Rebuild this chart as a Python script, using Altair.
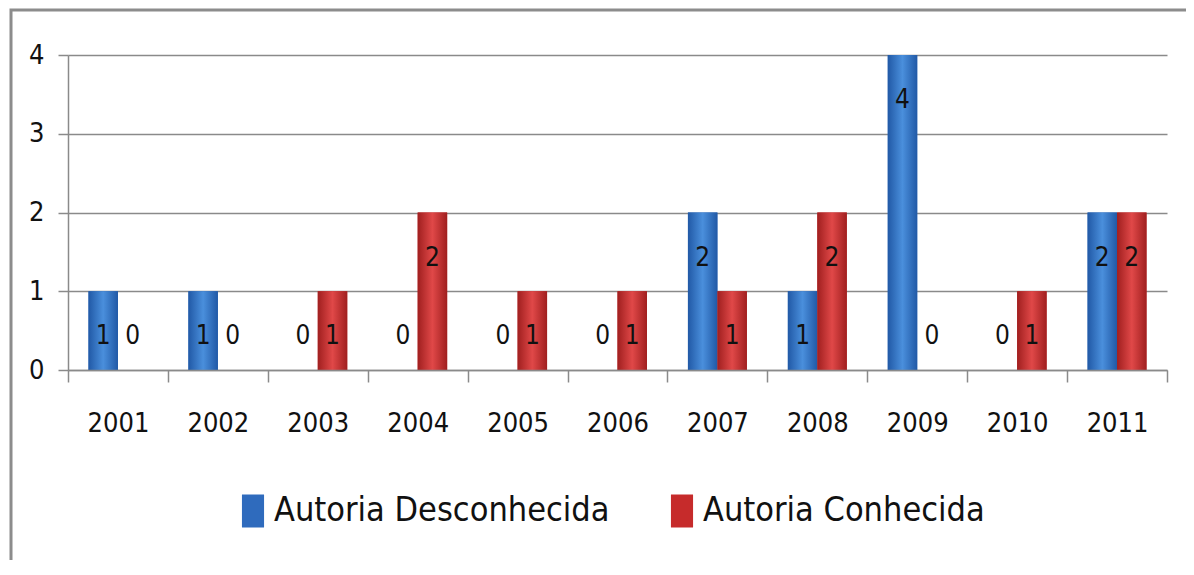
import altair as alt
import pandas as pd

years = ["2001", "2002", "2003", "2004", "2005", "2006", "2007", "2008", "2009", "2010", "2011"]
desconhecida = [1, 1, 0, 0, 0, 0, 2, 1, 4, 0, 2]
conhecida = [0, 0, 1, 2, 1, 1, 1, 2, 0, 1, 2]
series = ["Autoria Desconhecida", "Autoria Conhecida"]
colors = ["#2f6bbd", "#c62b2b"]

rows = []
for y, a, b in zip(years, desconhecida, conhecida):
    rows.append({"ano": y, "serie": series[0], "valor": a})
    rows.append({"ano": y, "serie": series[1], "valor": b})
df = pd.DataFrame(rows)

FONT = "Liberation Sans Narrow, DejaVu Sans Condensed, Liberation Sans, sans-serif"

x_enc = alt.X("ano:N", sort=years,
              scale=alt.Scale(paddingInner=0, paddingOuter=0),
              axis=alt.Axis(title=None, labelAngle=0, labelFont=FONT, labelFontSize=27,
                            labelColor="#111", labelPadding=28, tickSize=12, tickBand="extent",
                            tickColor="#8a8a8a", domainColor="#8a8a8a", tickWidth=1.5,
                            domainWidth=1.5, grid=False, zindex=1))
xoff = alt.XOffset("serie:N", sort=series,
                   scale=alt.Scale(domain=series, paddingInner=0, paddingOuter=0.695))
y_enc = alt.Y("valor:Q", scale=alt.Scale(domain=[0, 4], nice=False),
              axis=alt.Axis(title=None, values=[0, 1, 2, 3, 4], format="d", labelFont=FONT,
                            labelFontSize=27, labelColor="#111", labelPadding=14, tickSize=10,
                            tickColor="#8a8a8a", domainColor="#8a8a8a", gridColor="#8a8a8a",
                            gridWidth=1.5, tickWidth=1.5, domainWidth=1.5))

frame = alt.Chart(pd.DataFrame({"k": [0]})).mark_rect(
    fillOpacity=0, stroke="#8c8c8c", strokeWidth=3
).encode(x=alt.value(-57), x2=alt.value(1140), y=alt.value(-45), y2=alt.value(560))

base = alt.Chart(df).mark_bar().encode(
    x=x_enc, xOffset=xoff, y=y_enc,
    color=alt.Color("serie:N", sort=series,
                    scale=alt.Scale(domain=series, range=colors),
                    legend=alt.Legend(title=None, orient="none", legendX=168, legendY=439,
                                      direction="horizontal", labelFont=FONT, labelFontSize=34,
                                      labelColor="#111", labelOffset=4, columnPadding=55,
                                      symbolType="M-0.67,-1H0.67V1H-0.67Z", symbolSize=1089,
                                      symbolStrokeWidth=0, labelLimit=600))
)

def grad(dark, light):
    return alt.Gradient(gradient="linear", x1=0, x2=1, y1=0, y2=0,
                        stops=[alt.GradientStop(color=dark, offset=0),
                               alt.GradientStop(color=light, offset=0.5),
                               alt.GradientStop(color=dark, offset=1)])

blue = alt.Chart(df).transform_filter(alt.datum.serie == series[0]).mark_bar(
    fill=grad("#2159a6", "#4a8fdc")).encode(x=alt.X("ano:N", sort=years), xOffset=xoff, y="valor:Q")
red = alt.Chart(df).transform_filter(alt.datum.serie == series[1]).mark_bar(
    fill=grad("#a01f1f", "#e04848")).encode(x=alt.X("ano:N", sort=years), xOffset=xoff, y="valor:Q")

labels = alt.Chart(df).transform_calculate(pos="max(datum.valor, 1)").mark_text(
    font=FONT, fontSize=26, color="#111", baseline="middle", dy=45
).encode(x=alt.X("ano:N", sort=years), xOffset=xoff, y="pos:Q", text="valor:Q")

chart = alt.layer(frame, base, blue, red, labels).properties(
    width=1099, height=315, background="white",
    autosize=alt.AutoSizeParams(type="none"),
    padding={"left": 60, "top": 47, "right": 19, "bottom": 190},
).configure_view(stroke=None)

chart.save("out.html", embed_options={"renderer": "svg", "actions": False})
